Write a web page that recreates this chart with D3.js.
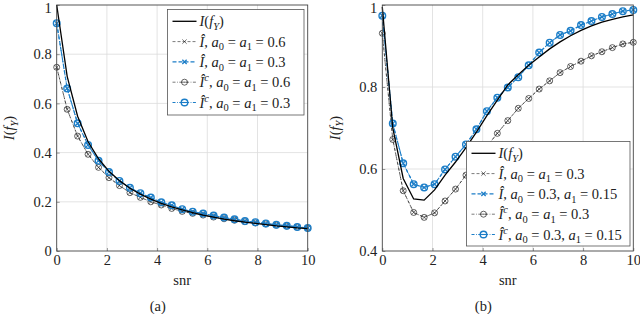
<!DOCTYPE html>
<html><head><meta charset="utf-8">
<script src="https://cdn.jsdelivr.net/npm/d3@7"></script>
<style>
html,body{margin:0;padding:0;background:#fff;}
svg{display:block;}
svg text{fill:#222;}
</style></head>
<body><svg id="c" width="640" height="314"></svg>
<script>
// ---- data ----
const snr = [0,0.417,0.833,1.25,1.667,2.083,2.5,2.917,3.333,3.75,4.167,4.583,5,5.417,5.833,6.25,6.667,7.083,7.5,7.917,8.333,8.75,9.167,9.583,10];
// panel (a)
const aExact  = [1.000,0.710,0.548,0.444,0.375,0.324,0.286,0.255,0.231,0.211,0.194,0.179,0.167,0.156,0.146,0.138,0.130,0.123,0.117,0.112,0.107,0.102,0.098,0.094,0.091];
const aHat06  = [0.747,0.576,0.467,0.393,0.340,0.298,0.266,0.237,0.218,0.200,0.187,0.173,0.161,0.153,0.146,0.138,0.131,0.125,0.119,0.114,0.110,0.105,0.101,0.097,0.093];
const aHat03  = [0.926,0.661,0.519,0.431,0.367,0.321,0.285,0.257,0.235,0.217,0.198,0.186,0.170,0.160,0.152,0.144,0.136,0.129,0.122,0.117,0.112,0.107,0.103,0.098,0.094];
const aHatC06 = [0.747,0.576,0.467,0.393,0.340,0.298,0.266,0.237,0.218,0.200,0.187,0.173,0.161,0.153,0.146,0.138,0.131,0.125,0.119,0.114,0.110,0.105,0.101,0.097,0.093];
const aHatC03 = [0.926,0.661,0.519,0.431,0.367,0.321,0.285,0.257,0.235,0.217,0.198,0.186,0.170,0.160,0.152,0.144,0.136,0.129,0.122,0.117,0.112,0.107,0.103,0.098,0.094];
// panel (b)
const bExact   = [0.995,0.700,0.577,0.527,0.524,0.549,0.585,0.617,0.652,0.690,0.730,0.768,0.805,0.830,0.853,0.873,0.893,0.910,0.925,0.938,0.949,0.958,0.965,0.971,0.976];
const bHat03   = [0.931,0.672,0.547,0.494,0.482,0.493,0.522,0.551,0.585,0.622,0.655,0.687,0.718,0.748,0.772,0.795,0.815,0.835,0.850,0.863,0.876,0.886,0.896,0.905,0.909];
const bHat0315 = [0.974,0.711,0.614,0.563,0.555,0.563,0.599,0.630,0.660,0.697,0.741,0.774,0.799,0.824,0.853,0.884,0.908,0.927,0.937,0.951,0.961,0.971,0.978,0.985,0.988];
const bHatC03  = [0.931,0.672,0.547,0.494,0.482,0.493,0.522,0.551,0.585,0.622,0.655,0.687,0.718,0.748,0.772,0.795,0.815,0.835,0.850,0.863,0.876,0.886,0.896,0.905,0.909];
const bHatC0315= [0.974,0.711,0.614,0.563,0.555,0.563,0.599,0.630,0.660,0.697,0.741,0.774,0.799,0.824,0.853,0.884,0.908,0.927,0.937,0.951,0.961,0.971,0.978,0.985,0.988];
const xTicks = [0,2,4,6,8,10];
const aYTicks = [0,0.2,0.4,0.6,0.8,1];
const bYTicks = [0.4,0.6,0.8,1];
const aLegendA = ["0.6","0.3"];
const bLegendA0 = "0.3", bLegendA1 = "0.15";

const BLUE = "rgb(28,126,200)";
const FONT = "'Liberation Serif','DejaVu Serif',serif";
const TS = 14.5, LS = 14.5;
const svg = d3.select("#c");

function mathRun(t, segs, size){
  let shift=0;
  segs.forEach(s=>{
    const [txt, st] = s;
    let target=0, fs=size, italic=false;
    if(st==='i') italic=true;
    if(st==='sub'){ target=size*0.25; fs=size*0.72; }
    if(st==='subi'){ target=size*0.25; fs=size*0.72; italic=true; }
    if(st==='sup'){ target=-size*0.4; fs=size*0.72; italic=true; }
    const ts = t.append("tspan").text(txt).attr("font-size",fs).attr("font-family",FONT);
    if(italic) ts.attr("font-style","italic");
    if(target!==shift){ ts.attr("dy",target-shift); shift=target; }
  });
}

function drawMarker(g, cx, cy, type, color, w, r){
  const k = r*0.72;
  if(type==='o'){
    g.append("circle").attr("cx",cx).attr("cy",cy).attr("r",r).attr("fill","none").attr("stroke",color).attr("stroke-width",w);
  }
  if(type==='x'){
    g.append("path").attr("d",`M${cx-k},${cy-k}L${cx+k},${cy+k}M${cx-k},${cy+k}L${cx+k},${cy-k}`)
      .attr("stroke",color).attr("stroke-width",w*0.9).attr("fill","none");
  }
  if(type==='o-'){
    g.append("circle").attr("cx",cx).attr("cy",cy).attr("r",r).attr("fill","none").attr("stroke",color).attr("stroke-width",w);
    g.append("line").attr("x1",cx-r).attr("x2",cx+r).attr("y1",cy).attr("y2",cy).attr("stroke",color).attr("stroke-width",w*0.8);
  }
}

function drawPanel(ox, yDomain, yTicks, series, legendItems, L, tag){
  const x = d3.scaleLinear().domain([0,10]).range([ox, ox+251]);
  const y = d3.scaleLinear().domain(yDomain).range([251,5]);
  const g = svg.append("g");
  g.append("g").selectAll("line").data(xTicks.slice(1,-1)).join("line")
    .attr("x1",d=>x(d)).attr("x2",d=>x(d)).attr("y1",5).attr("y2",251)
    .attr("stroke","#dcdcdc").attr("stroke-width",0.8);
  g.append("g").selectAll("line").data(yTicks.slice(1,-1)).join("line")
    .attr("y1",d=>y(d)).attr("y2",d=>y(d)).attr("x1",ox).attr("x2",ox+251)
    .attr("stroke","#dcdcdc").attr("stroke-width",0.8);
  const xa = g.append("g").attr("transform",`translate(0,251)`)
    .call(d3.axisBottom(x).tickValues(xTicks).tickSize(-3).tickPadding(4).tickFormat(d3.format("d")));
  const ya = g.append("g").attr("transform",`translate(${ox},0)`)
    .call(d3.axisLeft(y).tickValues(yTicks).tickSize(-3).tickPadding(5).tickFormat(d=>d===0||d===1?String(d):d3.format(".1f")(d)));
  [xa,ya].forEach(a=>{a.attr("font-family",FONT).attr("font-size",TS);
    a.select(".domain").remove(); a.selectAll("line").attr("stroke","#555").attr("stroke-width",0.6);
    a.selectAll("text").attr("fill","#222");});
  ya.selectAll(".tick").filter(d=>d===1).select("text").attr("dy","0.5em");
  series.forEach(s=>{
    const line = d3.line().x((d,i)=>x(snr[i])).y(d=>y(d));
    g.append("path").datum(s.data).attr("d",line).attr("fill","none")
      .attr("stroke",s.color).attr("stroke-width",s.w).attr("stroke-dasharray",s.dash||null);
    if(s.marker){
      const mg = g.append("g");
      s.data.forEach((v,i)=>drawMarker(mg, x(snr[i]), y(v), s.marker, s.color, s.mw, s.r||3));
    }
  });
  g.append("rect").attr("x",ox).attr("y",5).attr("width",251).attr("height",246)
    .attr("fill","none").attr("stroke","#444").attr("stroke-width",0.9);
  g.append("text").attr("x",ox+125.5).attr("y",285).attr("text-anchor","middle").attr("font-size",TS).attr("font-family",FONT).text("snr");
  g.append("text").attr("x",ox+101).attr("y",311).attr("text-anchor","middle").attr("font-size",TS).attr("font-family",FONT).text(tag);
  const yl = g.append("text").attr("transform",`translate(${ox-42.5},128) rotate(-90)`).attr("text-anchor","middle");
  mathRun(yl, exactLabel, TS);
  const lg = g.append("g");
  lg.append("rect").attr("x",L.x).attr("y",L.y).attr("width",L.w).attr("height",L.h)
    .attr("fill","#fff").attr("stroke","#555").attr("stroke-width",0.8);
  legendItems.forEach((it,i)=>{
    const yy = L.y + 11.8 + i*20.3;
    lg.append("line").attr("x1",L.x+5).attr("x2",L.x+29).attr("y1",yy).attr("y2",yy)
      .attr("stroke",it.color).attr("stroke-width",it.w).attr("stroke-dasharray",it.dash||null);
    if(it.marker) drawMarker(lg, L.x+17, yy, it.marker, it.color, it.mw, it.r||3);
    const t = lg.append("text").attr("x",L.x+32).attr("y",yy+5);
    mathRun(t, it.parts, LS);
  });
}

function eqSeg(a0, a1, same){
  if(same) return [[" ","r"],["a","i"],["0","sub"],[" = ","r"],["a","i"],["1","sub"],[" = "+a0,"r"]];
  return [[" ","r"],["a","i"],["0","sub"],[" = "+a0+", ","r"],["a","i"],["1","sub"],[" = "+a1,"r"]];
}
function hatLabel(c, a0, a1, same){
  const p=[["Î","i"]];
  if(c) p.push(["c","sup"]);
  p.push([",","r"]);
  return p.concat(eqSeg(a0,a1,same));
}
const exactLabel = [["I","i"],["(","r"],["f","i"],["Y","subi"],[")","r"]];

const DASH = "3,2", DASHDOT = "3,1.5,0.8,1.5";
// ---- panel (a) ----
drawPanel(56.7,[0,1],aYTicks,[
  {data:aHat06, color:"#222", w:0.6, dash:DASH, marker:"x", mw:0.7},
  {data:aHatC06, color:"#222", w:0.6, dash:DASHDOT, marker:"o", mw:0.7},
  {data:aHat03, color:BLUE, w:1.1, dash:"4,2", marker:"x", mw:1.4, r:3.3},
  {data:aHatC03, color:BLUE, w:1.1, dash:DASHDOT, marker:"o", mw:1.4, r:3.3},
  {data:aExact, color:"#000", w:1.3}
],[
  {color:"#000", w:1.3, parts:exactLabel},
  {color:"#222", w:0.6, dash:DASH, marker:"x", mw:0.7, parts:hatLabel(false,aLegendA[0],aLegendA[0],true)},
  {color:BLUE, w:1.1, dash:"4,2", marker:"x", mw:1.4, parts:hatLabel(false,aLegendA[1],aLegendA[1],true)},
  {color:"#222", w:0.6, dash:DASHDOT, marker:"o-", mw:0.7, parts:hatLabel(true,aLegendA[0],aLegendA[0],true)},
  {color:BLUE, w:1.1, dash:DASHDOT, marker:"o-", mw:1.4, r:3.3, parts:hatLabel(true,aLegendA[1],aLegendA[1],true)}
],{x:167.5,y:9.5,w:136.5,h:105.5},"(a)");

// ---- panel (b) ----
drawPanel(382.3,[0.4,1],bYTicks,[
  {data:bHat03, color:"#222", w:0.6, dash:DASH, marker:"x", mw:0.7},
  {data:bHatC03, color:"#222", w:0.6, dash:DASHDOT, marker:"o", mw:0.7},
  {data:bHat0315, color:BLUE, w:1.1, dash:"4,2", marker:"x", mw:1.4, r:3.3},
  {data:bHatC0315, color:BLUE, w:1.1, dash:DASHDOT, marker:"o", mw:1.4, r:3.3},
  {data:bExact, color:"#000", w:1.3}
],[
  {color:"#000", w:1.3, parts:exactLabel},
  {color:"#222", w:0.6, dash:DASH, marker:"x", mw:0.7, parts:hatLabel(false,bLegendA0,bLegendA0,true)},
  {color:BLUE, w:1.1, dash:"4,2", marker:"x", mw:1.4, parts:hatLabel(false,bLegendA0,bLegendA1,false)},
  {color:"#222", w:0.6, dash:DASHDOT, marker:"o-", mw:0.7, parts:hatLabel(true,bLegendA0,bLegendA0,true)},
  {color:BLUE, w:1.1, dash:DASHDOT, marker:"o-", mw:1.4, r:3.3, parts:hatLabel(true,bLegendA0,bLegendA1,false)}
],{x:466.5,y:141.5,w:163.5,h:104.5},"(b)");
</script></body></html>
